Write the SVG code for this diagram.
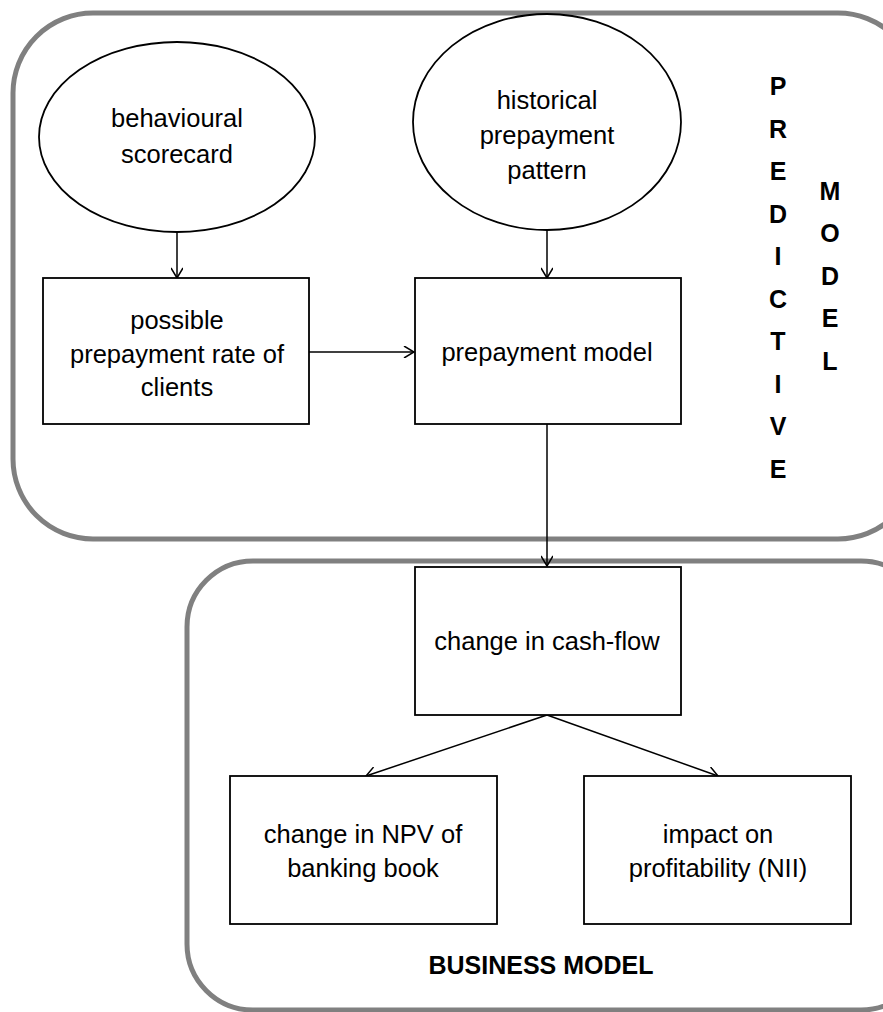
<svg xmlns="http://www.w3.org/2000/svg" width="883" height="1012" viewBox="0 0 883 1012">
<defs>
<style>
.frame{fill:none;stroke:#808080;stroke-width:5}
.shape{fill:#fff;stroke:#000;stroke-width:1.8}
.t{font-family:"Liberation Sans",Arial,sans-serif;font-size:25.5px;text-anchor:middle;fill:#000}
.b{font-family:"Liberation Sans",Arial,sans-serif;font-size:25px;font-weight:bold;text-anchor:middle;fill:#000}
.bm{font-family:"Liberation Sans",Arial,sans-serif;font-size:25px;font-weight:bold;text-anchor:middle;fill:#000}
.conn{stroke:#000;stroke-width:1.5;fill:none}
</style>
<marker id="arr" viewBox="0 0 12 12" refX="11" refY="6" markerWidth="12" markerHeight="12" markerUnits="userSpaceOnUse" orient="auto">
<path d="M1,0 L11,6 L1,12" fill="none" stroke="#000" stroke-width="1.5"/>
</marker>
</defs>
<rect id="frame-predictive" class="frame" x="13" y="13" width="905" height="526" rx="80" ry="80"/>
<rect id="frame-business" class="frame" x="187" y="561" width="740" height="449" rx="66" ry="66"/>
<g id="connectors">
<line class="conn" x1="177" y1="231" x2="177" y2="278" marker-end="url(#arr)"/>
<line class="conn" x1="547" y1="230" x2="547" y2="278" marker-end="url(#arr)"/>
<line class="conn" x1="309" y1="352" x2="414" y2="352" marker-end="url(#arr)"/>
<line class="conn" x1="547" y1="424" x2="547" y2="566" marker-end="url(#arr)"/>
<line class="conn" x1="547" y1="715" x2="366" y2="776" marker-end="url(#arr)"/>
<line class="conn" x1="547" y1="715" x2="718" y2="776" marker-end="url(#arr)"/>
</g>
<g id="behavioural-scorecard">
<ellipse class="shape" cx="177" cy="137" rx="138" ry="95"/>
<text class="t" x="177" y="127">behavioural</text>
<text class="t" x="177" y="163">scorecard</text>
</g>
<g id="historical-pattern">
<ellipse class="shape" cx="547" cy="122" rx="134" ry="108"/>
<text class="t" x="547" y="109">historical</text>
<text class="t" x="547" y="144">prepayment</text>
<text class="t" x="547" y="179">pattern</text>
</g>
<g id="possible-rate">
<rect class="shape" x="43" y="278" width="266" height="146"/>
<text class="t" x="177" y="329">possible</text>
<text class="t" x="177" y="363">prepayment rate of</text>
<text class="t" x="177" y="396">clients</text>
</g>
<g id="prepayment-model">
<rect class="shape" x="415" y="278" width="266" height="146"/>
<text class="t" x="547" y="361">prepayment model</text>
</g>
<g id="cash-flow">
<rect class="shape" x="415" y="567" width="266" height="148"/>
<text class="t" x="547" y="650">change in cash-flow</text>
</g>
<g id="npv">
<rect class="shape" x="230" y="776" width="267" height="148"/>
<text class="t" x="363" y="843">change in NPV of</text>
<text class="t" x="363" y="877">banking book</text>
</g>
<g id="nii">
<rect class="shape" x="584" y="776" width="267" height="148"/>
<text class="t" x="718" y="843">impact on</text>
<text class="t" x="718" y="877">profitability (NII)</text>
</g>
<g id="label-predictive">
<text class="b" x="778" y="95">P</text>
<text class="b" x="778" y="138">R</text>
<text class="b" x="778" y="180">E</text>
<text class="b" x="778" y="223">D</text>
<text class="b" x="778" y="265">I</text>
<text class="b" x="778" y="308">C</text>
<text class="b" x="778" y="350">T</text>
<text class="b" x="778" y="393">I</text>
<text class="b" x="778" y="435">V</text>
<text class="b" x="778" y="478">E</text>
<text class="b" x="830" y="200">M</text>
<text class="b" x="830" y="242">O</text>
<text class="b" x="830" y="285">D</text>
<text class="b" x="830" y="327">E</text>
<text class="b" x="830" y="370">L</text>
</g>
<g id="label-business">
<text class="bm" x="541" y="974">BUSINESS MODEL</text>
</g>
</svg>
